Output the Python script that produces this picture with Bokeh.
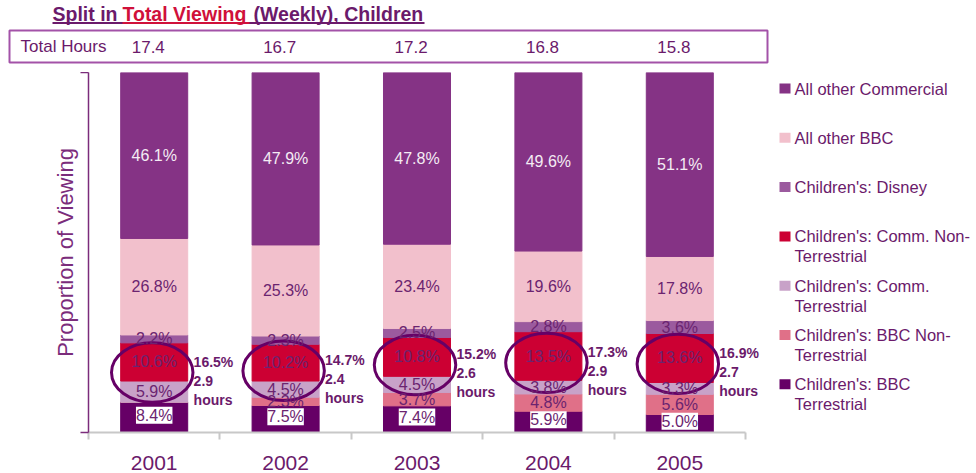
import numpy as np
from bokeh.plotting import figure
from bokeh.layouts import column
from bokeh.models import (ColumnDataSource, Range1d, LinearAxis, FixedTicker, LabelSet, Label,
                          BoxAnnotation, PolyAnnotation)
from bokeh.transform import dodge
from bokeh.core.properties import value
from bokeh.embed import file_html
from bokeh.resources import INLINE

# ---------------- data ----------------
years = ["2001", "2002", "2003", "2004", "2005"]
total_hours = ["17.4", "16.7", "17.2", "16.8", "15.8"]

# stacked from bottom to top (% of viewing)
bbc_terr = [8.4, 7.5, 7.4, 5.9, 5.0]
bbc_non_terr = [0.0, 2.3, 3.7, 4.8, 5.6]
comm_terr = [5.9, 4.5, 4.5, 3.8, 3.3]
comm_non_terr = [10.6, 10.2, 10.8, 13.5, 13.6]
disney = [2.2, 2.3, 2.5, 2.8, 3.6]
other_bbc = [26.8, 25.3, 23.4, 19.6, 17.8]
other_comm = [46.1, 47.9, 47.8, 49.6, 51.1]

kids_comm_share = ["16.5%", "14.7%", "15.2%", "17.3%", "16.9%"]
kids_comm_hours = ["2.9", "2.4", "2.6", "2.9", "2.7"]

series_keys = ["bbc_terr", "bbc_non_terr", "comm_terr", "comm_non_terr",
               "disney", "other_bbc", "other_comm"]
series_vals = [bbc_terr, bbc_non_terr, comm_terr, comm_non_terr, disney, other_bbc, other_comm]
series_names = ["Children's: BBC\nTerrestrial", "Children's: BBC Non-\nTerrestrial",
                "Children's: Comm.\nTerrestrial", "Children's: Comm. Non-\nTerrestrial",
                "Children's: Disney", "All other BBC", "All other Commercial"]
series_colors = ["#660066", "#E07088", "#C8A2C8", "#CC0033", "#9B5A9E", "#F2C0CC", "#853385"]

# ---------------- layout / styles ----------------
FONT = "Liberation Sans"
PURPLE = "#6B1A6B"
LABEL_PURPLE = "#6B2470"
RED = "#D0103A"
W = 976
TOP_H = 72          # header strip height
MAIN_H = 401        # chart strip height
FRAME_LEFT = 88     # x of the value axis
SLOT = 657 / 5      # width of one year slot in px
PLOT_BOTTOM = 432   # page y of 0 %

xpos = [i + 0.5 for i in range(len(years))]   # slot centres
x_lo = -FRAME_LEFT / SLOT
x_hi = (W - FRAME_LEFT) / SLOT

# ================= header figure =================
hdr = figure(x_range=Range1d(x_lo, x_hi), y_range=Range1d(TOP_H, 0),
             width=W, height=TOP_H, output_backend="svg", toolbar_location=None,
             x_axis_location=None, y_axis_location=None, title=None,
             min_border=0, min_border_left=0, min_border_right=0,
             min_border_top=0, min_border_bottom=0)
hdr.frame_align = False
hdr.outline_line_color = None
hdr.grid.grid_line_color = None
hdr.extra_x_ranges = {"px": Range1d(0, W)}

title_kw = dict(x_range_name="px", text_font=FONT, text_font_style="bold",
                text_font_size="19.5px", text_baseline="middle", y=13.5)
hdr.add_layout(Label(x=52, text="Split in", text_color=PURPLE, **title_kw))
hdr.add_layout(Label(x=122, text="Total Viewing", text_color=RED, **title_kw))
hdr.add_layout(Label(x=253, text="(Weekly), Children", text_color=PURPLE, **title_kw))
hdr.add_layout(BoxAnnotation(left=52, right=424, top=21.5, bottom=23.5, x_range_name="px",
                             fill_color=PURPLE, fill_alpha=1, line_color=None))
hdr.add_layout(BoxAnnotation(left=122, right=249, top=21.5, bottom=23.5, x_range_name="px",
                             fill_color=RED, fill_alpha=1, line_color=None))

hdr.add_layout(BoxAnnotation(left=9, right=767, top=30, bottom=62, x_range_name="px",
                             fill_color=None, fill_alpha=0, line_color="#A352A8",
                             line_alpha=1, line_width=2))
hdr.add_layout(Label(x=20, y=46, text="Total Hours", x_range_name="px",
                     text_font=FONT, text_font_size="17px", text_color=PURPLE,
                     text_baseline="middle"))
th_src = ColumnDataSource(dict(x=xpos, t=total_hours))
hdr.add_layout(LabelSet(x=dodge("x", -0.045), y=46, text="t", source=th_src,
                        text_align="center", text_baseline="middle",
                        text_font=value(FONT), text_font_size="17px", text_color=PURPLE))

# ================= chart figure =================
p = figure(x_range=Range1d(0, x_hi), y_range=Range1d(0, 100),
           width=W, height=MAIN_H, output_backend="svg", toolbar_location=None,
           x_axis_location=None, y_axis_location=None, title=None,
           min_border_left=FRAME_LEFT, min_border_right=0, min_border_top=0,
           min_border_bottom=TOP_H + MAIN_H - PLOT_BOTTOM)
p.frame_align = False
p.outline_line_color = None
p.background_fill_color = "white"
p.border_fill_color = "white"
p.grid.grid_line_color = None
# page-pixel helper ranges for the legend area
p.extra_x_ranges = {"px": Range1d(FRAME_LEFT, W)}
p.extra_y_ranges = {"py": Range1d(PLOT_BOTTOM, TOP_H)}

yaxis = LinearAxis(ticker=FixedTicker(ticks=[0, 100]), axis_label="Proportion of Viewing")
yaxis.axis_line_color = "#7B2C7B"
yaxis.axis_line_width = 1.5
yaxis.major_tick_line_color = "#7B2C7B"
yaxis.major_tick_line_width = 1.5
yaxis.major_tick_out = 8
yaxis.major_tick_in = 0
yaxis.minor_tick_line_color = None
yaxis.major_label_text_font_size = "0px"
yaxis.major_label_text_color = None
yaxis.major_label_standoff = 0
yaxis.axis_label_text_font = FONT
yaxis.axis_label_text_font_size = "22px"
yaxis.axis_label_text_font_style = "normal"
yaxis.axis_label_text_color = "#7B2C7B"
yaxis.axis_label_standoff = 3
p.add_layout(yaxis, "left")

tick_axis = LinearAxis(ticker=FixedTicker(ticks=list(range(len(years) + 1))),
                       bounds=(0, len(years)))
tick_axis.axis_line_color = "#C8C8C8"
tick_axis.axis_line_width = 2
tick_axis.major_tick_line_color = "#C8C8C8"
tick_axis.major_tick_line_width = 2
tick_axis.major_tick_out = 7
tick_axis.major_tick_in = 0
tick_axis.minor_tick_line_color = None
tick_axis.major_label_text_font_size = "0px"
tick_axis.major_label_text_color = None
tick_axis.major_label_standoff = 0
p.add_layout(tick_axis, "below")

cat_axis = LinearAxis(ticker=FixedTicker(ticks=xpos),
                      major_label_overrides={x: y for x, y in zip(xpos, years)})
cat_axis.axis_line_color = None
cat_axis.major_tick_line_color = None
cat_axis.minor_tick_line_color = None
cat_axis.major_tick_out = 0
cat_axis.major_tick_in = 0
cat_axis.major_label_standoff = 16
cat_axis.major_label_text_font = FONT
cat_axis.major_label_text_font_size = "21px"
cat_axis.major_label_text_color = PURPLE
p.add_layout(cat_axis, "below")

# bars
data = {"x": xpos, "year": years}
for k, v in zip(series_keys, series_vals):
    data[k] = v
src = ColumnDataSource(data)
p.vbar_stack(series_keys, x="x", width=0.51, color=series_colors, source=src)

# segment labels
lx, ly, lt, lc = [], [], [], []
cum = np.zeros(len(years))
for k, vals in zip(series_keys, series_vals):
    vals = np.array(vals)
    if k != "bbc_terr":
        for i, v in enumerate(vals):
            if v > 0:
                lx.append(xpos[i])
                ly.append(cum[i] + v / 2)
                lt.append(f"{v:.1f}%")
                lc.append("#F4ECF4" if k == "other_comm" else LABEL_PURPLE)
    cum = cum + vals
seg_src = ColumnDataSource(dict(x=lx, y=ly, t=lt, c=lc))
p.add_layout(LabelSet(x="x", y="y", text="t", text_color="c", source=seg_src,
                      text_align="center", text_baseline="middle",
                      text_font=value(FONT), text_font_size="16px"))

bt_src = ColumnDataSource(dict(x=xpos, y=[v / 2 + 0.6 for v in bbc_terr],
                               t=[f"{v:.1f}%" for v in bbc_terr]))
p.add_layout(LabelSet(x="x", y="y", text="t", source=bt_src, text_color=LABEL_PURPLE,
                      text_align="center", text_baseline="middle",
                      text_font=value(FONT), text_font_size="16px",
                      background_fill_color="white"))

# highlight ellipses + notes
base = np.array(bbc_terr) + np.array(bbc_non_terr)
top = base + np.array(comm_terr) + np.array(comm_non_terr)
mid = (base + top) / 2
ell_src = ColumnDataSource(dict(x=xpos, y=mid, ann_y=mid - 2.3,
                                ann=[f"{s}\n{h}\nhours" for s, h in zip(kids_comm_share, kids_comm_hours)]))
p.ellipse(x=dodge("x", -0.015), y="y", width=0.62, height=16.5,
          source=ell_src, fill_color=None, line_color="#660066", line_width=3)
p.text(x=dodge("x", 0.30), y="ann_y", text="ann", source=ell_src,
       text_font=value(FONT), text_font_style="bold", text_font_size="14px",
       text_color=PURPLE, text_align="left", text_baseline="middle", text_line_height=1.2)

# legend (drawn at the right of the chart)
for idx, (name, col) in enumerate(zip(series_names[::-1], series_colors[::-1])):
    yc = 88 + idx * 49.3
    p.add_layout(BoxAnnotation(left=779, right=790, top=yc - 5, bottom=yc + 5,
                               x_range_name="px", y_range_name="py",
                               fill_color=col, fill_alpha=1, line_color=None))
    for j, line in enumerate(name.split("\n")):
        p.add_layout(Label(x=794, y=yc + j * 20, text=line, x_range_name="px",
                           y_range_name="py", text_font=FONT, text_font_size="16.5px",
                           text_color=PURPLE, text_baseline="middle"))

th = np.linspace(0, 2 * np.pi, 120)
p.add_layout(PolyAnnotation(xs=list(848 + 126 * np.cos(th)), ys=list(264 + 59 * np.sin(th)),
                            x_range_name="px", y_range_name="py",
                            fill_color=None, fill_alpha=0, line_color="#660066",
                            line_alpha=1, line_width=2.5))

page = column(hdr, p, spacing=0)
open("out.html", "w").write(file_html(page, INLINE))
